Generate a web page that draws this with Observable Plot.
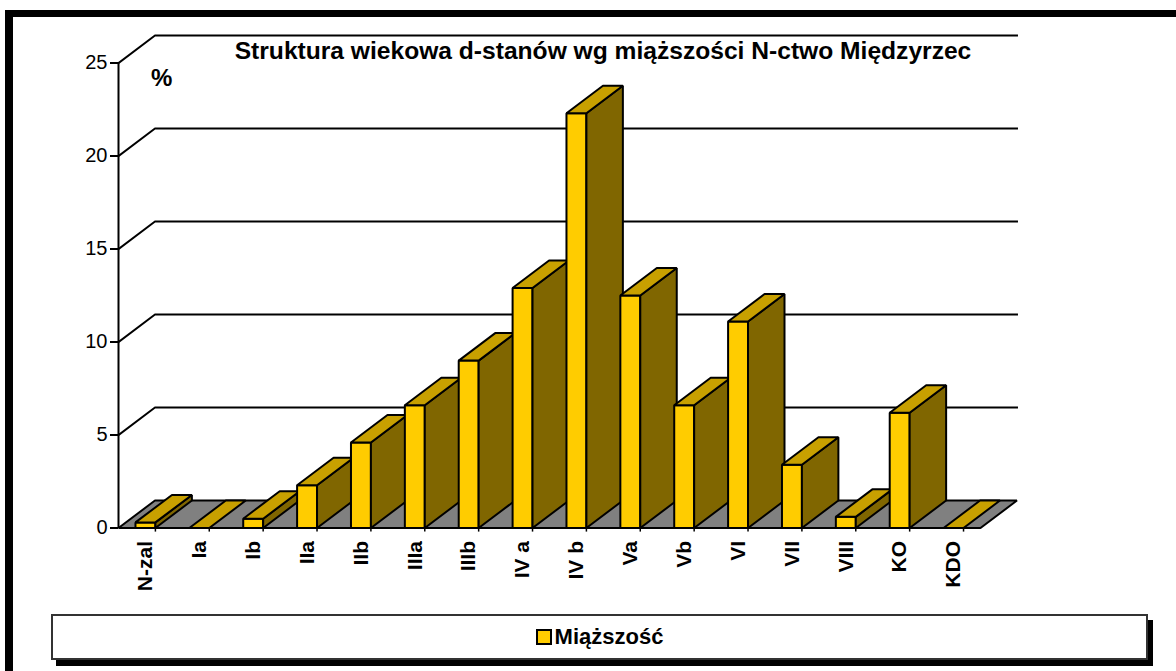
<!DOCTYPE html>
<html>
<head>
<meta charset="utf-8">
<script src="https://cdn.jsdelivr.net/npm/d3@7"></script>
<script src="https://cdn.jsdelivr.net/npm/@observablehq/plot@0.6"></script>
<style>
  html, body { margin: 0; padding: 0; background: #fff; overflow: hidden; }
  #wrap { position: relative; width: 1176px; height: 671px; overflow: hidden; background: #fff;
          font-family: "Liberation Sans", Arial, sans-serif; }
  #chart { position: absolute; left: 0; top: 0; }
  #frame { position: absolute; left: 5px; top: 10px; width: 1400px; height: 900px;
           border-left: 8px solid #000; border-top: 7px solid #000; pointer-events: none; }
  #title { position: absolute; left: 0; width: 1206px; top: 39px; text-align: center;
           font-weight: bold; font-size: 24.6px; line-height: 1; color: #000; white-space: nowrap; }
  #pct { position: absolute; left: 151px; top: 66px; font-weight: bold; font-size: 24px; line-height: 1; }
  #legend { position: absolute; left: 51px; top: 614px; width: 1093px; height: 42px;
            border: 2px solid #333; background: #fff; box-shadow: 5px 6px 0 #000;
            display: flex; align-items: center; justify-content: center; }
  #legend .sw { width: 12px; height: 12px; background: #FFCC00; border: 2px solid #000; margin-right: 3px; }
  #legend .lt { font-weight: bold; font-size: 22px; }
</style>
</head>
<body>
<div id="wrap">
  <div id="chart"></div>
  <div id="title">Struktura wiekowa d-stanów wg miąższości N-ctwo Międzyrzec</div>
  <div id="pct">%</div>
  <div id="legend"><div class="sw"></div><div class="lt">Miąższość</div></div>
  <div id="frame"></div>
</div>
<script>
// ---- data ----
const categories = ["N-zal", "Ia", "Ib", "IIa", "IIb", "IIIa", "IIIb", "IV a", "IV b", "Va", "Vb", "VI", "VII", "VIII", "KO", "KDO"];
const values = [0.3, 0, 0.5, 2.3, 4.6, 6.6, 9.0, 12.9, 22.3, 12.5, 6.6, 11.1, 3.4, 0.6, 6.2, 0];
const yTicks = [0, 5, 10, 15, 20, 25];
const seriesName = "Miąższość";

// ---- 3D look (in data units) ----
const DX = 0.677, DY = 1.478, W = 0.37;
const FRONT = "#FFCC00", SIDE = "#806600", TOP = "#C8A000", FLOOR = "#808080";
const n = categories.length;

const polys = [];
function poly(id, fill, pts) { pts.forEach(([x, y]) => polys.push({id, fill, x, y})); }
poly("floor", FLOOR, [[0, 0], [n, 0], [n + DX, DY], [DX, DY]]);
values.forEach((v, i) => {
  const xl = i + 0.5 - W / 2, xr = xl + W;
  if (v > 0) {
    poly("f" + i, FRONT, [[xl, 0], [xr, 0], [xr, v], [xl, v]]);
    poly("s" + i, SIDE, [[xr, 0], [xr + DX, DY], [xr + DX, v + DY], [xr, v]]);
  }
  poly("t" + i, TOP, [[xl, v], [xr, v], [xr + DX, v + DY], [xl + DX, v + DY]]);
});

const grid = [];
yTicks.filter(t => t > 0).forEach(t => {
  [[0, t], [DX, t + DY], [n + DX, t + DY]].forEach(([x, y]) => grid.push({id: t, x, y}));
});

const chart = Plot.plot({
  width: 1176,
  height: 600,
  marginLeft: 118,
  marginRight: 196,
  marginTop: 62.5,
  marginBottom: 72.5,
  style: {background: "transparent", overflow: "visible", fontFamily: "'Liberation Sans', Arial, sans-serif", color: "#000"},
  x: {domain: [0, n], axis: null},
  y: {domain: [0, 25]},
  color: {type: "identity"},
  marks: [
    Plot.line(grid, {x: "x", y: "y", z: "id", stroke: "#000", strokeWidth: 2, strokeLinejoin: "miter", strokeLinecap: "square"}),
    Plot.line(polys, {x: "x", y: "y", z: "id", fill: "fill", stroke: "#000", strokeWidth: 2,
                      curve: "linear-closed", strokeLinejoin: "miter"}),
    Plot.ruleX([0], {y1: 0, y2: 25, stroke: "#000", strokeWidth: 2}),
    Plot.axisY(yTicks, {tickSize: 8, tickPadding: 3, fontSize: 20, strokeWidth: 2, label: null, tickFormat: d => String(d)}),
    Plot.ruleX(categories.map((c, i) => i + 0.5 + W / 2), {x: d => d, y1: 0, y2: -0.22, stroke: "#000", strokeWidth: 1.5}),
    Plot.text(categories, {x: (d, i) => i + 0.5, y: () => 0, text: d => d, rotate: -90, textAnchor: "end",
                           lineAnchor: "middle", dy: 13, fontWeight: "bold", fontSize: 21, fill: "#000"})
  ]
});
document.getElementById("chart").appendChild(chart);
document.querySelector("#legend .lt").textContent = seriesName;
</script>
</body>
</html>
